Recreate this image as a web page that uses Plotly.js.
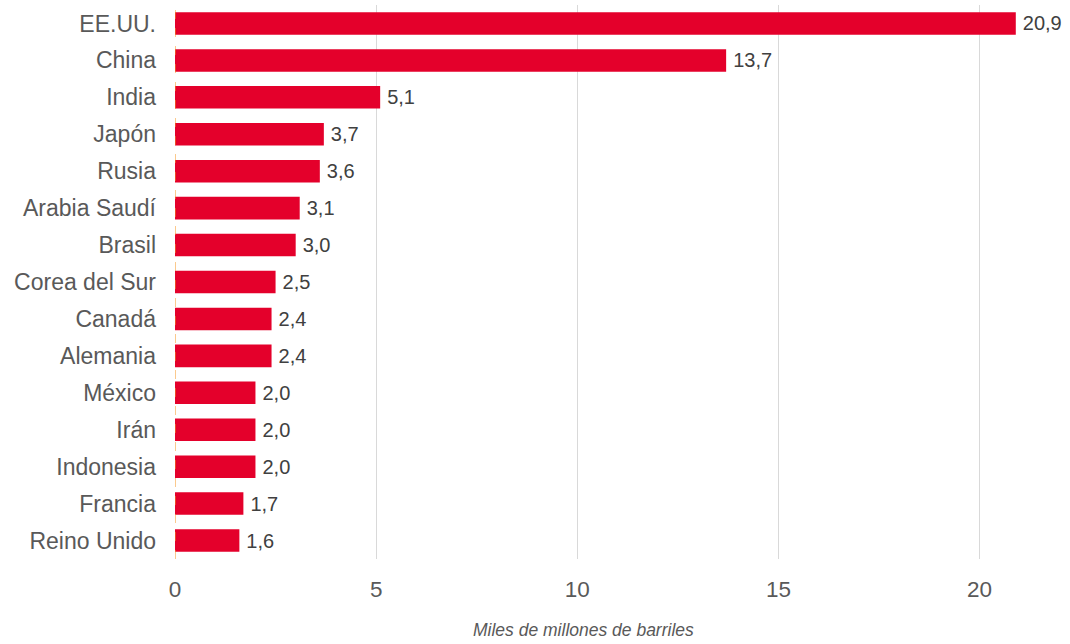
<!DOCTYPE html>
<html>
<head>
<meta charset="utf-8">
<script src="https://cdn.plot.ly/plotly-3.0.1.min.js"></script>
<style>html,body{margin:0;padding:0;background:#fff;}#chart{width:1070px;height:644px;}</style>
</head>
<body>
<div id="chart"></div>
<script>
const countries = ["EE.UU.", "China", "India", "Japón", "Rusia", "Arabia Saudí", "Brasil", "Corea del Sur", "Canadá", "Alemania", "México", "Irán", "Indonesia", "Francia", "Reino Unido"];
const values = [20.9, 13.7, 5.1, 3.7, 3.6, 3.1, 3.0, 2.5, 2.4, 2.4, 2.0, 2.0, 2.0, 1.7, 1.6];
const xTicks = [0, 5, 10, 15, 20];
const axisTitle = "Miles de millones de barriles";

const FONT = "'Liberation Sans', Arial, Helvetica, sans-serif";
const labels = values.map(v => v.toFixed(1).replace('.', ','));

const trace = {
  type: 'bar',
  orientation: 'h',
  y: countries,
  x: values,
  text: labels.map(t => '\u2009' + t),
  textposition: 'outside',
  textfont: {family: FONT, size: 20, color: '#404040'},
  cliponaxis: false,
  marker: {color: '#e4002b'},
  hoverinfo: 'none'
};

const layout = {
  width: 1070,
  height: 644,
  margin: {l: 175, r: 18, t: 5, b: 85},
  paper_bgcolor: '#ffffff',
  plot_bgcolor: '#ffffff',
  bargap: 0.39,
  showlegend: false,
  font: {family: FONT, color: '#595959'},
  xaxis: {
    range: [0, 21.8],
    tickvals: xTicks,
    ticktext: xTicks.map(String),
    showgrid: true,
    gridcolor: '#d9d9d9',
    gridwidth: 1,
    zeroline: false,
    showline: false,
    ticks: '',
    ticklabelstandoff: 14,
    tickfont: {family: FONT, size: 22.5, color: '#595959'}
  },
  yaxis: {
    type: 'category',
    autorange: 'reversed',
    showgrid: false,
    zeroline: false,
    showline: false,
    ticks: '',
    ticklabelstandoff: 18,
    tickfont: {family: FONT, size: 23, color: '#595959'}
  },
  shapes: [{
    type: 'line', xref: 'x', yref: 'paper',
    x0: 0, x1: 0, y0: 0, y1: 1,
    line: {color: '#f7941d', width: 1, dash: 'dash'}
  }],
  annotations: [{
    text: axisTitle,
    xref: 'paper', yref: 'paper',
    x: (583 - 175) / (1070 - 175 - 18), y: 0,
    yshift: -71,
    xanchor: 'center', yanchor: 'middle',
    showarrow: false,
    font: {size: 17.5, color: '#595959', family: FONT, style: 'italic'}
  }]
};

Plotly.newPlot('chart', [trace], layout, {displayModeBar: false, staticPlot: true});
</script>
</body>
</html>
